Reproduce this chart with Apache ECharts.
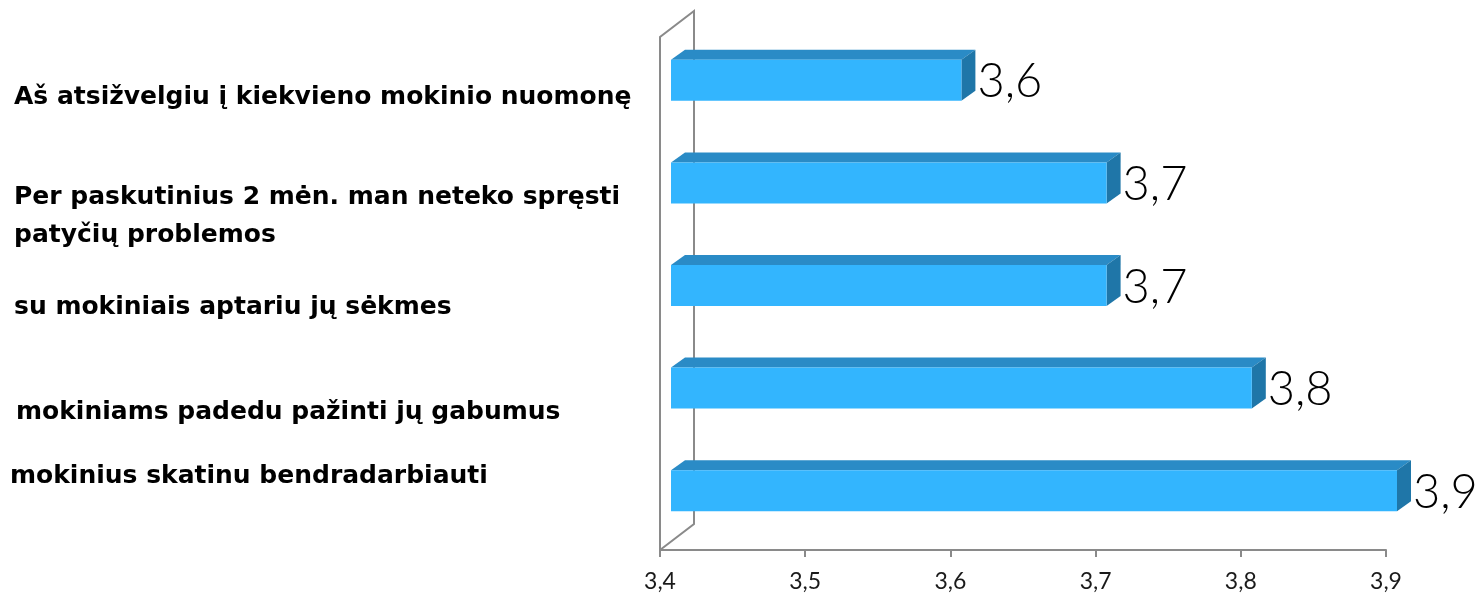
<!DOCTYPE html>
<html>
<head>
<meta charset="utf-8">
<script src="https://cdn.jsdelivr.net/npm/echarts@6/dist/echarts.min.js"></script>
<style>
html,body{margin:0;padding:0;background:#fff;}
#chart{width:1479px;height:596px;}
</style>
</head>
<body>
<div id="chart"></div>
<script>
// ---- data ----
const categories = [
  'Aš atsižvelgiu į kiekvieno mokinio nuomonę',
  'Per paskutinius 2 mėn. man neteko spręsti\npatyčių problemos',
  'su mokiniais aptariu jų sėkmes',
  'mokiniams padedu pažinti jų gabumus',
  'mokinius skatinu bendradarbiauti'
];
const values = [3.6, 3.7, 3.7, 3.8, 3.9];
const xTicks = [3.4, 3.5, 3.6, 3.7, 3.8, 3.9];

// ---- styling (layout only) ----
const labelPad = [[18,0,0,0],[52,0,0,0],[28,0,0,0],[32,0,0,0],[0,0,44,0]];
const labelBoxW = [636, 636, 636, 634, 640];
const X_MIN = xTicks[0], X_MAX = xTicks[xTicks.length - 1];
const SHIFT = [11, -8];   // bar front face offset from front plane
const DEPTH = [14, -10];  // bar depth
const WALL = [34, -26];   // wall depth
const FRONT = '#33B5FE', TOP = '#2A8BC6', SIDE = '#1F76A8';
const AXIS_COLOR = '#8A8A8A';
const CAT_FONT = {fontSize: 25, fontWeight: 'bold', fontFamily: 'DejaVu Sans', color: '#000', lineHeight: 38};

const chart = echarts.init(document.getElementById('chart'), null, {renderer: 'canvas'});

const rich = {};
labelBoxW.forEach((w, i) => { rich['a' + i] = Object.assign({width: w, align: 'left'}, CAT_FONT); });

const option = {
  backgroundColor: '#fff',
  animation: false,
  grid: {left: 660, right: 93, top: 37, bottom: 46, containLabel: false, outerBoundsMode: 'none'},
  xAxis: {
    type: 'value', min: X_MIN, max: X_MAX, interval: 0.1,
    axisLine: {show: true, lineStyle: {color: AXIS_COLOR, width: 2}},
    axisTick: {show: true, length: 7, lineStyle: {color: AXIS_COLOR, width: 2}},
    splitLine: {show: false},
    axisLabel: {
      margin: 20, fontSize: 23, color: '#1a1a1a', fontFamily: 'Lato', fontWeight: 'normal',
      formatter: v => v.toFixed(1).replace('.', ',')
    }
  },
  yAxis: {
    type: 'category', inverse: true,
    data: categories.map((c, i) => ({value: c, textStyle: {padding: labelPad[i]}})),
    axisLine: {show: false}, axisTick: {show: false}, splitLine: {show: false},
    axisLabel: Object.assign({
      margin: 10, verticalAlign: 'middle',
      formatter: (v, i) => '{a' + i + '|' + v.split('\n').join('}\n{a' + i + '|') + '}',
      rich: rich
    }, CAT_FONT)
  },
  series: [
    {
      type: 'custom', z: 1, silent: true,
      data: [[X_MIN, 0]],
      renderItem: function (params, api) {
        const cs = params.coordSys;
        const fx = api.coord([X_MIN, 0])[0];
        const top = cs.y, bottom = cs.y + cs.height;
        return {
          type: 'polyline',
          shape: {points: [
            [fx, bottom], [fx, top], [fx + WALL[0], top + WALL[1]],
            [fx + WALL[0], bottom + WALL[1]], [fx, bottom]
          ]},
          style: {stroke: AXIS_COLOR, lineWidth: 2, fill: null}
        };
      }
    },
    {
      type: 'custom', z: 2, silent: true,
      encode: {x: 0, y: 1},
      data: values.map((v, i) => [v, i]),
      renderItem: function (params, api) {
        const idx = api.value(1);
        const v = api.value(0);
        const start = api.coord([X_MIN, idx]);
        const end = api.coord([v, idx]);
        const h = api.size([0, 1])[1] * 0.4;
        const x0 = start[0] + SHIFT[0], x1 = end[0] + SHIFT[0];
        const yc = end[1] + SHIFT[1];
        const t = yc - h / 2, b = yc + h / 2;
        return {
          type: 'group',
          children: [
            {type: 'polygon', shape: {points: [[x0, t], [x0 + DEPTH[0], t + DEPTH[1]], [x1 + DEPTH[0], t + DEPTH[1]], [x1, t]]}, style: {fill: TOP}},
            {type: 'polygon', shape: {points: [[x1, t], [x1 + DEPTH[0], t + DEPTH[1]], [x1 + DEPTH[0], b + DEPTH[1]], [x1, b]]}, style: {fill: SIDE}},
            {type: 'rect', shape: {x: x0, y: t, width: x1 - x0, height: h}, style: {fill: FRONT}},
            {type: 'text', x: x1 + 16, y: yc + 2, style: {
              text: v.toFixed(1).replace('.', ','), fill: '#000',
              font: '300 47px Lato', verticalAlign: 'middle', align: 'left'
            }}
          ]
        };
      }
    }
  ]
};
chart.setOption(option);
</script>
</body>
</html>
